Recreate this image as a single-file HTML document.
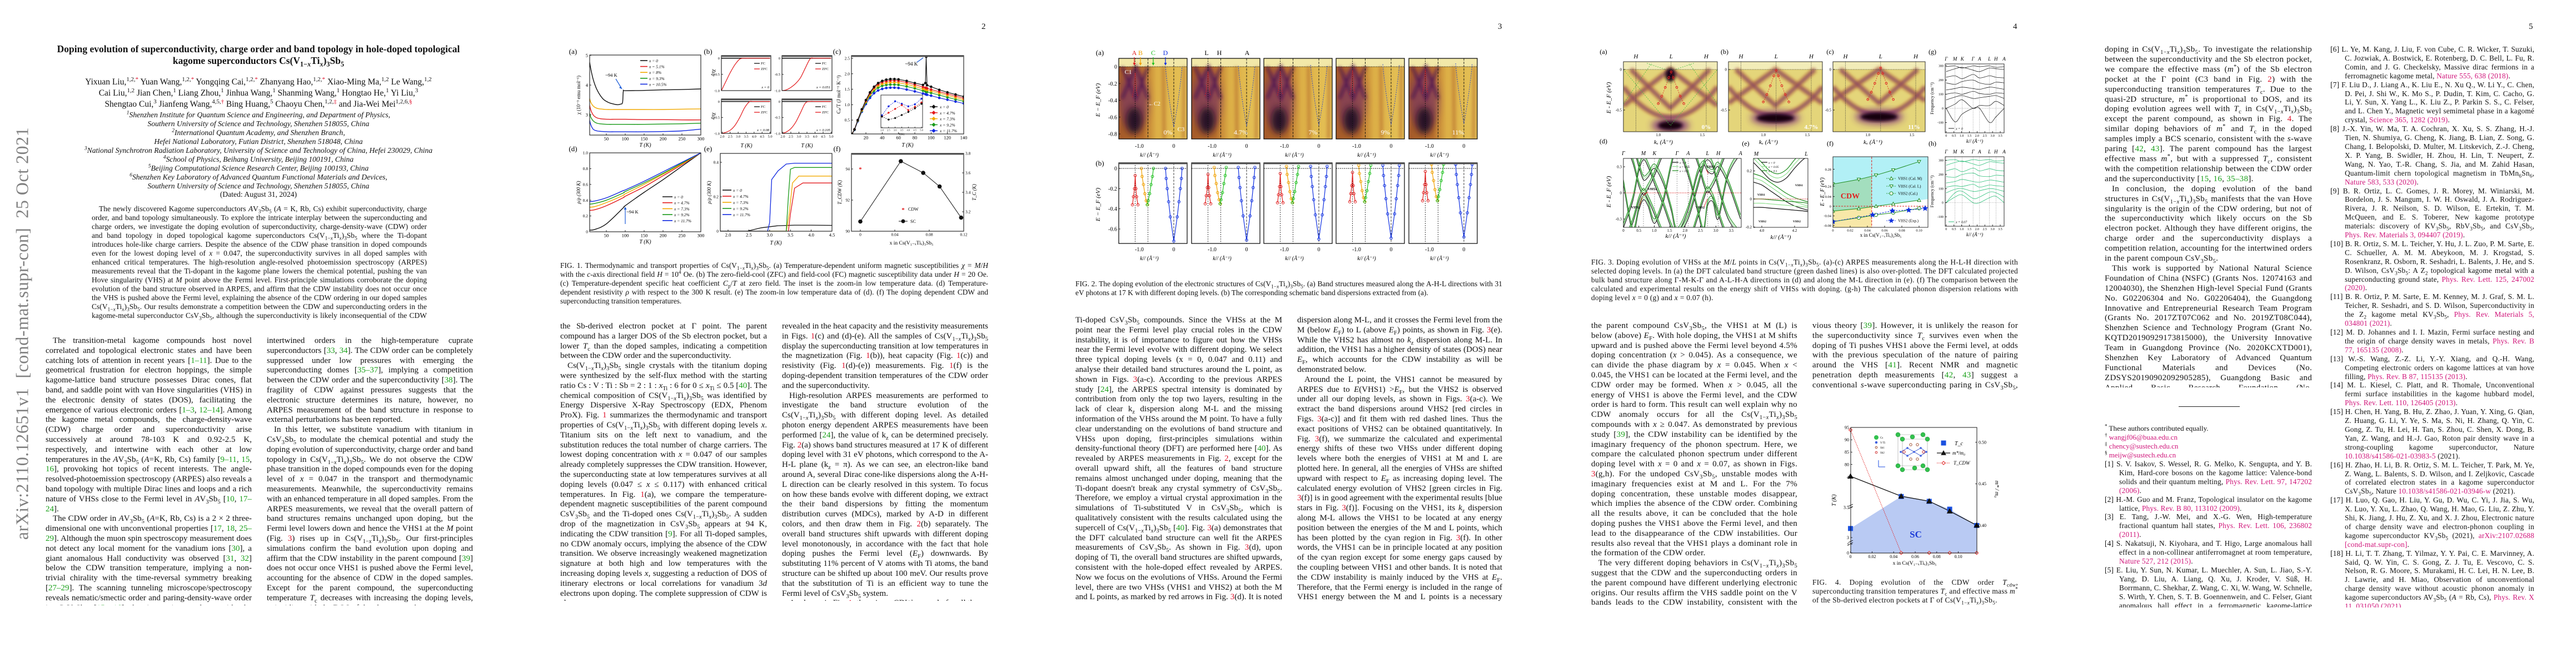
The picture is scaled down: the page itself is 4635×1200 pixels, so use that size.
<!DOCTYPE html>
<html><head><meta charset="utf-8">
<style>
html,body{margin:0;padding:0;background:#fff;}
#sheet{position:relative;width:4635px;height:1200px;overflow:hidden;background:#fff;font-family:"Liberation Serif","DejaVu Serif",serif;color:#111;}
.page{position:absolute;top:0;width:928px;height:1200px;}
.col{position:absolute;font-size:15px;line-height:17.8px;text-align:justify;overflow:hidden;}
.col p{margin:0;text-indent:13px;}
.col p.ni{text-indent:0;}
.cap{position:absolute;font-size:13.4px;line-height:16px;text-align:justify;overflow:hidden;}
.refs{position:absolute;font-size:13.3px;line-height:15.9px;text-align:justify;overflow:hidden;}
.refs div{padding-left:26px;text-indent:-26px;}
sub,sup{font-size:70%;line-height:0;}
.g{color:#1aa01a;} .r{color:#e0102a;} .m{color:#d0157a;}
.pn{position:absolute;top:40px;font-size:15px;}
</style></head>
<body>
<div id="sheet">

<!-- PAGE 1 -->
<div class="page" style="left:0">
 <div style="position:absolute;left:40px;top:600px;width:0;height:0;">
  <div style="position:absolute;transform:translate(-50%,-50%) rotate(-90deg);white-space:nowrap;font-size:32px;color:#808080;letter-spacing:0.5px;">arXiv:2110.12651v1&nbsp;&nbsp;[cond-mat.supr-con]&nbsp;&nbsp;25 Oct 2021</div>
 </div>
 <div style="position:absolute;left:80px;width:770px;top:78px;text-align:center;font-weight:bold;font-size:17.5px;line-height:21px;">Doping evolution of superconductivity, charge order and band topology in hole-doped topological<br>kagome superconductors Cs(V<sub>1−<i>x</i></sub>Ti<sub><i>x</i></sub>)<sub>3</sub>Sb<sub>5</sub></div>
 <div style="position:absolute;left:150px;width:630px;top:138px;text-align:center;font-size:15.5px;line-height:20px;">Yixuan Liu,<sup>1,2,<span class="r">*</span></sup> Yuan Wang,<sup>1,2,<span class="r">*</span></sup> Yongqing Cai,<sup>1,2,<span class="r">*</span></sup> Zhanyang Hao,<sup>1,2,<span class="r">*</span></sup> Xiao-Ming Ma,<sup>1,2</sup> Le Wang,<sup>1,2</sup> Cai Liu,<sup>1,2</sup> Jian Chen,<sup>1</sup> Liang Zhou,<sup>1</sup> Jinhua Wang,<sup>1</sup> Shanming Wang,<sup>1</sup> Hongtao He,<sup>1</sup> Yi Liu,<sup>3</sup> Shengtao Cui,<sup>3</sup> Jianfeng Wang,<sup>4,5,<span class="r">†</span></sup> Bing Huang,<sup>5</sup> Chaoyu Chen,<sup>1,2,<span class="r">‡</span></sup> and Jia-Wei Mei<sup>1,2,6,<span class="r">§</span></sup></div>
 <div style="position:absolute;left:100px;width:730px;top:199px;text-align:center;font-style:italic;font-size:13.6px;line-height:16px;">
  <sup>1</sup>Shenzhen Institute for Quantum Science and Engineering, and Department of Physics,<br>Southern University of Science and Technology, Shenzhen 518055, China<br><sup>2</sup>International Quantum Academy, and Shenzhen Branch,<br>Hefei National Laboratory, Futian District, Shenzhen 518048, China<br><sup>3</sup>National Synchrotron Radiation Laboratory, University of Science and Technology of China, Hefei 230029, China<br><sup>4</sup>School of Physics, Beihang University, Beijing 100191, China<br><sup>5</sup>Beijing Computational Science Research Center, Beijing 100193, China<br><sup>6</sup>Shenzhen Key Laboratory of Advanced Quantum Functional Materials and Devices,<br>Southern University of Science and Technology, Shenzhen 518055, China</div>
 <div style="position:absolute;left:100px;width:730px;top:342px;text-align:center;font-size:13.6px;">(Dated: August 31, 2024)</div>
 <div class="cap" style="left:165px;width:603px;top:368px;height:210px;font-size:13.5px;"><p style="margin:0;text-indent:13px">The newly discovered Kagome superconductors <i>A</i>V<sub>3</sub>Sb<sub>5</sub> (<i>A</i> = K, Rb, Cs) exhibit superconductivity, charge order, and band topology simultaneously. To explore the intricate interplay between the superconducting and charge orders, we investigate the doping evolution of superconductivity, charge-density-wave (CDW) order and band topology in doped topological kagome superconductors Cs(V<sub>1−<i>x</i></sub>Ti<sub><i>x</i></sub>)<sub>3</sub>Sb<sub>5</sub> where the Ti-dopant introduces hole-like charge carriers. Despite the absence of the CDW phase transition in doped compounds even for the lowest doping level of <i>x</i> = 0.047, the superconductivity survives in all doped samples with enhanced critical temperatures. The high-resolution angle-resolved photoemission spectroscopy (ARPES) measurements reveal that the Ti-dopant in the kagome plane lowers the chemical potential, pushing the van Hove singularity (VHS) at <i>M</i> point above the Fermi level. First-principle simulations corroborate the doping evolution of the band structure observed in ARPES, and affirm that the CDW instability does not occur once the VHS is pushed above the Fermi level, explaining the absence of the CDW ordering in our doped samples Cs(V<sub>1−<i>x</i></sub>Ti<sub><i>x</i></sub>)<sub>3</sub>Sb<sub>5</sub>. Our results demonstrate a competition between the CDW and superconducting orders in the kagome-metal superconductor CsV<sub>3</sub>Sb<sub>5</sub>, although the superconductivity is likely inconsequential of the CDW order.</p></div>
 <div class="col" style="left:82px;width:371px;top:605px;height:484px;">
  <p>The transition-metal kagome compounds host novel correlated and topological electronic states and have been catching lots of attention in recent years [<span class="g">1–11</span>]. Due to the geometrical frustration for electron hoppings, the simple kagome-lattice band structure possesses Dirac cones, flat band, and saddle point with van Hove singularities (VHS) in the electronic density of states (DOS), facilitating the emergence of various electronic orders [<span class="g">1–3</span>, <span class="g">12–14</span>]. Among the kagome metal compounds, the charge-density-wave (CDW) charge order and superconductivity arise successively at around 78-103 K and 0.92-2.5 K, respectively, and intertwine with each other at low temperatures in the <i>A</i>V<sub>3</sub>Sb<sub>5</sub> (<i>A</i>=K, Rb, Cs) family [<span class="g">9–11</span>, <span class="g">15</span>, <span class="g">16</span>], provoking hot topics of recent interests. The angle-resolved-photoemission spectroscopy (ARPES) also reveals a band topology with multiple Dirac lines and loops and a rich nature of VHSs close to the Fermi level in <i>A</i>V<sub>3</sub>Sb<sub>5</sub> [<span class="g">10</span>, <span class="g">17–24</span>].</p>
  <p>The CDW order in <i>A</i>V<sub>3</sub>Sb<sub>5</sub> (<i>A</i>=K, Rb, Cs) is a 2 × 2 three-dimensional one with unconventional properties [<span class="g">17</span>, <span class="g">18</span>, <span class="g">25–29</span>]. Although the muon spin spectroscopy measurement does not detect any local moment for the vanadium ions [<span class="g">30</span>], a giant anomalous Hall conductivity was observed [<span class="g">31</span>, <span class="g">32</span>] below the CDW transition temperature, implying a non-trivial chirality with the time-reversal symmetry breaking [<span class="g">27–29</span>]. The scanning tunneling microscope/spectroscopy reveals nematic/smectic order and paring-density-wave order in CsV<sub>3</sub>Sb<sub>5</sub> [<span class="g">15</span>, <span class="g">16</span>], by interesting analogy with the intertwined orders of the cuprates.</p>
 </div>
 <div class="col" style="left:480px;width:371px;top:605px;height:484px;">
  <p class="ni">intertwined orders in the high-temperature cuprate superconductors [<span class="g">33</span>, <span class="g">34</span>]. The CDW order can be completely suppressed under low pressures with emerging the superconducting domes [<span class="g">35–37</span>], implying a competition between the CDW order and the superconductivity [<span class="g">38</span>]. The fragility of CDW against pressures suggests that the electronic structure determines its nature, however, no ARPES measurement of the band structure in response to external perturbations has been reported.</p>
  <p>In this letter, we substitute vanadium with titanium in CsV<sub>3</sub>Sb<sub>5</sub> to modulate the chemical potential and study the doping evolution of superconductivity, charge order and band topology in Cs(V<sub>1−<i>x</i></sub>Ti<sub><i>x</i></sub>)<sub>3</sub>Sb<sub>5</sub>. We do not observe the CDW phase transition in the doped compounds even for the doping level of <i>x</i> = 0.047 in the transport and thermodynamic measurements. Meanwhile, the superconductivity remains with an enhanced temperature in all doped samples. From the ARPES measurements, we reveal that the overall pattern of band structures remains unchanged upon doping, but the Fermi level lowers down and hence the VHS1 at the <i>M</i> point (Fig. <span class="r">3</span>) rises up in Cs(V<sub>1−<i>x</i></sub>Ti<sub><i>x</i></sub>)<sub>3</sub>Sb<sub>5</sub>. Our first-principles simulations confirm the band evolution upon doping and affirm that the CDW instability in the parent compound [<span class="g">39</span>] does not occur once VHS1 is pushed above the Fermi level, accounting for the absence of CDW in the doped samples. Except for the parent compound, the superconducting temperature <i>T</i><sub>c</sub> decreases with increasing the doping levels, coinciding with the DOS of the electron pocket.</p>
 </div>
</div>

<!-- PAGE 2 -->
<div class="page" style="left:928px">
 <div class="pn" style="left:838px">2</div>
 <div class="cap" style="left:80px;width:770px;top:470px;height:82px;">FIG. 1. Thermodynamic and transport properties of Cs(V<sub>1−<i>x</i></sub>Ti<sub><i>x</i></sub>)<sub>3</sub>Sb<sub>5</sub>. (a) Temperature-dependent uniform magnetic susceptibilities <i>χ</i> = <i>M</i>/<i>H</i> with the <i>c</i>-axis directional field <i>H</i> = 10<sup>4</sup> Oe. (b) The zero-field-cool (ZFC) and field-cool (FC) magnetic susceptibility data under <i>H</i> = 20 Oe. (c) Temperature-dependent specific heat coefficient <i>C</i><sub>p</sub>/<i>T</i> at zero field. The inset is the zoom-in low temperature data. (d) Temperature-dependent resistivity <i>ρ</i> with respect to the 300 K result. (e) The zoom-in low temperature data of (d). (f) The doping dependent CDW and superconducting transition temperatures.</div>
 <div class="col" style="left:80px;width:372px;top:579px;height:502px;">
  <p class="ni">the Sb-derived electron pocket at Γ point. The parent compound has a larger DOS of the Sb electron pocket, but a lower <i>T</i><sub>c</sub> than the doped samples, indicating a competition between the CDW order and the superconductivity.</p>
  <p>Cs(V<sub>1−<i>x</i></sub>Ti<sub><i>x</i></sub>)<sub>3</sub>Sb<sub>5</sub> single crystals with the titanium doping were synthesized by the self-flux method with the starting ratio Cs : V : Ti : Sb = 2 : 1 : <i>x</i><sub>Ti</sub> : 6 for 0 ≤ <i>x</i><sub>Ti</sub> ≤ 0.5 [<span class="g">40</span>]. The chemical composition of CS(V<sub>1−<i>x</i></sub>Ti<sub><i>x</i></sub>)<sub>3</sub>Sb<sub>5</sub> was identified by Energy Dispersive X-Ray Spectroscopy (EDX, Phenom ProX). Fig. <span class="r">1</span> summarizes the thermodynamic and transport properties of Cs(V<sub>1−<i>x</i></sub>Ti<sub><i>x</i></sub>)<sub>3</sub>Sb<sub>5</sub> with different doping levels <i>x</i>. Titanium sits on the left next to vanadium, and the substitution reduces the total number of charge carriers. The lowest doping concentration with <i>x</i> = 0.047 of our samples already completely suppresses the CDW transition. However, the superconducting state at low temperatures survives at all doping levels (0.047 ≤ <i>x</i> ≤ 0.117) with enhanced critical temperatures. In Fig. <span class="r">1</span>(a), we compare the temperature-dependent magnetic susceptibilities of the parent compound CsV<sub>3</sub>Sb<sub>5</sub> and the Ti-doped ones Cs(V<sub>1−<i>x</i></sub>Ti<sub><i>x</i></sub>)<sub>3</sub>Sb<sub>5</sub>. A sudden drop of the magnetization in CsV<sub>3</sub>Sb<sub>5</sub> appears at 94 K, indicating the CDW transition [<span class="g">9</span>]. For all Ti-doped samples, no CDW anomaly occurs, implying the absence of the CDW transition. We observe increasingly weakened magnetization signature at both high and low temperatures with the increasing doping levels <i>x</i>, suggesting a reduction of DOS of itinerary electrons or local correlations for vanadium 3<i>d</i> electrons upon doping. The complete suppression of CDW is also</p>
 </div>
 <div class="col" style="left:479px;width:371px;top:579px;height:502px;">
  <p class="ni">revealed in the heat capacity and the resistivity measurements in Figs. <span class="r">1</span>(c) and (d)-(e). All the samples of Cs(V<sub>1−<i>x</i></sub>Ti<sub><i>x</i></sub>)<sub>3</sub>Sb<sub>5</sub> display the superconducting transition at low temperatures in the magnetization (Fig. <span class="r">1</span>(b)), heat capacity (Fig. <span class="r">1</span>(c)) and resistivity (Fig. <span class="r">1</span>(d)-(e)) measurements. Fig. <span class="r">1</span>(f) is the doping-dependent transition temperatures of the CDW order and the superconductivity.</p>
  <p>High-resolution ARPES measurements are performed to investigate the band structure evolution of the Cs(V<sub>1−<i>x</i></sub>Ti<sub><i>x</i></sub>)<sub>3</sub>Sb<sub>5</sub> with different doping level. As detailed photon energy dependent ARPES measurements have been performed [<span class="g">24</span>], the value of k<sub>z</sub> can be determined precisely. Fig. <span class="r">2</span>(a) shows band structures measured at 17 K of different doping level with 31 eV photons, which correspond to the A-H-L plane (k<sub>z</sub> = π). As we can see, an electron-like band around A, several Dirac cone-like dispersions along the A-H-L direction can be clearly resolved in this system. To focus on how these bands evolve with different doping, we extract the their band dispersions by fitting the momentum distribution curves (MDCs), marked by A-D in different colors, and then draw them in Fig. <span class="r">2</span>(b) separately. The overall band structures shift upwards with different doping level monotonously, in accordance with the fact that hole doping pushes the Fermi level (<i>E</i><sub>F</sub>) downwards. By substituting 11% percent of V atoms with Ti atoms, the band structure can be shifted up about 100 meV. Our results prove that the substitution of Ti is an efficient way to tune the Fermi level of CsV<sub>3</sub>Sb<sub>5</sub> system.</p>
  <p>As shown in Fig. <span class="r">1</span>, there is no CDW anomaly for all the</p>
 </div>
</div>

<!-- PAGE 3 -->
<div class="page" style="left:1856px">
 <div class="pn" style="left:839px">3</div>
 <div class="cap" style="left:79px;width:768px;top:503px;height:34px;">FIG. 2. The doping evolution of the electronic structures of Cs(V<sub>1−<i>x</i></sub>Ti<sub><i>x</i></sub>)<sub>3</sub>Sb<sub>5</sub>. (a) Band structures measured along the A-H-L directions with 31 eV photons at 17 K with different doping levels. (b) The corresponding schematic band dispersions extracted from (a).</div>
 <div class="col" style="left:79px;width:372px;top:568px;height:513px;">
  <p class="ni">Ti-doped CsV<sub>3</sub>Sb<sub>5</sub> compounds. Since the VHSs at the M point near the Fermi level play crucial roles in the CDW instability, it is of importance to figure out how the VHSs near the Fermi level evolve with different doping. We select three typical doping levels (x = 0, 0.047 and 0.11) and analyse their detailed band structures around the L point, as shown in Figs. <span class="r">3</span>(a-c). According to the previous ARPES study [<span class="g">24</span>], the ARPES spectral intensity is dominated by contribution from only the top two layers, resulting in the lack of clear k<sub>z</sub> dispersion along M-L and the missing information of the VHSs around the M point. To have a fully clear understanding on the evolutions of band structure and VHSs upon doping, first-principles simulations within density-functional theory (DFT) are performed here [<span class="g">40</span>]. As revealed by ARPES measurements in Fig. <span class="r">2</span>, except for the overall upward shift, all the features of band structure remains almost unchanged under doping, meaning that the Ti-dopant doesn't break any crystal symmetry of CsV<sub>3</sub>Sb<sub>5</sub>. Therefore, we employ a virtual crystal approximation in the simulations of Ti-substituted V in CsV<sub>3</sub>Sb<sub>5</sub>, which is qualitatively consistent with the results calculated using the supercell of Cs(V<sub>1−<i>x</i></sub>Ti<sub><i>x</i></sub>)<sub>3</sub>Sb<sub>5</sub> [<span class="g">40</span>]. Fig. <span class="r">3</span>(a) demonstrates that the DFT calculated band structure can well fit the ARPES measurements of CsV<sub>3</sub>Sb<sub>5</sub>. As shown in Fig. <span class="r">3</span>(d), upon doping of Ti, the overall band structures are shifted upwards, consistent with the hole-doped effect revealed by ARPES. Now we focus on the evolutions of VHSs. Around the Fermi level, there are two VHSs (VHS1 and VHS2) at both the M and L points, as marked by red arrows in Fig. <span class="r">3</span>(d). It is noted that the VHS1 has a large <i>k</i><sub>z</sub></p>
 </div>
 <div class="col" style="left:478px;width:369px;top:568px;height:513px;">
  <p class="ni">dispersion along M-L, and it crosses the Fermi level from the M (below <i>E</i><sub>F</sub>) to L (above <i>E</i><sub>F</sub>) points, as shown in Fig. <span class="r">3</span>(e). While the VHS2 has almost no <i>k</i><sub>z</sub> dispersion along M-L. In addition, the VHS1 has a higher density of states (DOS) near <i>E</i><sub>F</sub>, which accounts for the CDW instability as will be demonstrated below.</p>
  <p>Around the L point, the VHS1 cannot be measured by ARPES due to <i>E</i>(VHS1) &gt;<i>E</i><sub>F</sub>, but the VHS2 is observed under all our doping levels, as shown in Figs. <span class="r">3</span>(a-c). We extract the band dispersions around VHS2 [red circles in Figs. <span class="r">3</span>(a-c)] and fit them with red dashed lines. Thus the exact positions of VHS2 can be obtained quantitatively. In Fig. <span class="r">3</span>(f), we summarize the calculated and experimental energy shifts of these two VHSs under different doping levels where both the energies of VHS1 at M and L are plotted here. In general, all the energies of VHSs are shifted upward with respect to <i>E</i><sub>F</sub> as increasing doping level. The calculated energy evolution of VHS2 [green circles in Fig. <span class="r">3</span>(f)] is in good agreement with the experimental results [blue stars in Fig. <span class="r">3</span>(f)]. Focusing on the VHS1, its <i>k</i><sub>z</sub> dispersion along M-L allows the VHS1 to be located at any energy position between the energies of the M and L points, which has been plotted by the cyan region in Fig. <span class="r">3</span>(f). In other words, the VHS1 can be in principle located at any position of the cyan region except for some energy gaps caused by the coupling between VHS1 and other bands. It is noted that the CDW instability is mainly induced by the VHS at <i>E</i><sub>F</sub>. Therefore, that the Fermi energy is included in the range of VHS1 energy between the M and L points is a necessary condition for the formation of CDW. As shown in Fig. <span class="r">3</span>(f), for</p>
 </div>
</div>

<!-- PAGE 4 -->
<div class="page" style="left:2784px">
 <div class="pn" style="left:838px">4</div>
 <div class="cap" style="left:79px;width:768px;top:464px;height:82px;letter-spacing:0.3px;">FIG. 3. Doping evolution of VHSs at the <i>M</i>/<i>L</i> points in Cs(V<sub>1−<i>x</i></sub>Ti<sub><i>x</i></sub>)<sub>3</sub>Sb<sub>5</sub>. (a)-(c) ARPES measurements along the H-L-H direction with selected doping levels. In (a) the DFT calculated band structure (green dashed lines) is also over-plotted. The DFT calculated projected bulk band structure along Γ-M-K-Γ and A-L-H-A directions in (d) and along the M-L direction in (e). (f) The comparison between the calculated and experimental results on the energy shift of VHSs with doping. (g-h) The calculated phonon dispersion relations with doping level <i>x</i> = 0 (g) and <i>x</i> = 0.07 (h).</div>
 <div class="col" style="left:79px;width:371px;top:578px;height:513px;letter-spacing:0.3px;">
  <p class="ni">the parent compound CsV<sub>3</sub>Sb<sub>5</sub>, the VHS1 at M (L) is below (above) <i>E</i><sub>F</sub>. With hole doping, the VHS1 at M shifts upward and is pushed above the Fermi level beyond 4.5% doping concentration (<i>x</i> &gt; 0.045). As a consequence, we can divide the phase diagram by <i>x</i> = 0.045. When <i>x</i> &lt; 0.045, the VHS1 can be located at the Fermi level, and the CDW order may be formed. When <i>x</i> &gt; 0.045, all the energy of VHS1 is above the Fermi level, and the CDW order is hard to form. This result can well explain why no CDW anomaly occurs for all the Cs(V<sub>1−<i>x</i></sub>Ti<sub><i>x</i></sub>)<sub>3</sub>Sb<sub>5</sub> compounds with <i>x</i> ≥ 0.047. As demonstrated by previous study [<span class="g">39</span>], the CDW instability can be identified by the imaginary frequency of the phonon spectrum. Here, we compare the calculated phonon spectrum under different doping level with <i>x</i> = 0 and <i>x</i> = 0.07, as shown in Figs. <span class="r">3</span>(g,h). For the undoped CsV<sub>3</sub>Sb<sub>5</sub>, unstable modes with imaginary frequencies exist at M and L. For the 7% doping concentration, these unstable modes disappear, which implies the absence of the CDW order. Combining all the results above, it can be concluded that the hole doping pushes the VHS1 above the Fermi level, and then lead to the disappearance of the CDW instabilities. Our results also reveal that the VHS1 plays a dominant role in the formation of the CDW order.</p>
  <p>The very different doping behaviors in Cs(V<sub>1−<i>x</i></sub>Ti<sub><i>x</i></sub>)<sub>3</sub>Sb<sub>5</sub> suggest that the CDW and the superconducting orders in the parent compound have different underlying electronic origins. Our results affirm the VHS saddle point on the V bands leads to the CDW instability, consistent with the pre-</p>
 </div>
 <div class="col" style="left:477px;width:370px;top:578px;height:126px;letter-spacing:0.3px;">
  <p class="ni">vious theory [<span class="g">39</span>]. However, it is unlikely the reason for the superconductivity since <i>T</i><sub>c</sub> survives even when the doping of Ti pushes VHS1 above the Fermi level, at odds with the previous speculation of the nature of pairing around the VHS [<span class="g">41</span>]. Recent NMR and magnetic penetration depth measurements [<span class="g">42</span>, <span class="g">43</span>] suggest a conventional <i>s</i>-wave superconducting paring in CsV<sub>3</sub>Sb<sub>5</sub>, which unlikely occurs on the V bands regarding the robustness of the superconductivity upon</p>
 </div>
 <div class="cap" style="left:477px;width:370px;top:1040px;height:50px;letter-spacing:0.3px;">FIG. 4. Doping evolution of the CDW order <i>T</i><sub>cdw</sub>, superconducting transition temperatures <i>T</i><sub>c</sub> and effective mass <i>m</i><sup>*</sup> of the Sb-derived electron pockets at Γ of Cs(V<sub>1−<i>x</i></sub>Ti<sub><i>x</i></sub>)<sub>3</sub>Sb<sub>5</sub>.</div>
</div>

<!-- PAGE 5 -->
<div class="page" style="left:3712px">
 <div class="pn" style="left:838px">5</div>
 <div class="col" style="left:75px;width:373px;top:81px;height:616px;letter-spacing:0.3px;line-height:17.9px;">
  <p class="ni">doping in Cs(V<sub>1−<i>x</i></sub>Ti<sub><i>x</i></sub>)<sub>3</sub>Sb<sub>5</sub>. To investigate the relationship between the superconductivity and the Sb electron pocket, we compare the effective mass (<i>m</i><sup>*</sup>) of the Sb electron pocket at the Γ point (C3 band in Fig. <span class="r">2</span>) with the superconducting transition temperatures <i>T</i><sub>c</sub>. Due to the quasi-2D structure, <i>m</i><sup>*</sup> is proportional to DOS, and its doping evolution agrees well with <i>T</i><sub>c</sub> in Cs(V<sub>1−<i>x</i></sub>Ti<sub><i>x</i></sub>)<sub>3</sub>Sb<sub>5</sub> except the parent compound, as shown in Fig. <span class="r">4</span>. The similar doping behaviors of <i>m</i><sup>*</sup> and <i>T</i><sub>c</sub> in the doped samples imply a BCS scenario, consistent with the <i>s</i>-wave paring [<span class="g">42</span>, <span class="g">43</span>]. The parent compound has the largest effective mass <i>m</i><sup>*</sup>, but with a suppressed <i>T</i><sub>c</sub>, consistent with the competition relationship between the CDW order and the superconductivity [<span class="g">15</span>, <span class="g">16</span>, <span class="g">35–38</span>].</p>
  <p>In conclusion, the doping evolution of the band structures in Cs(V<sub>1−<i>x</i></sub>Ti<sub><i>x</i></sub>)<sub>3</sub>Sb<sub>5</sub> manifests that the van Hove singularity is the origin of the CDW ordering, but not of the superconductivity which likely occurs on the Sb electron pocket. Although they have different origins, the charge order and the superconductivity displays a competition relation, accounting for the intertwined orders in the parent compoun CsV<sub>3</sub>Sb<sub>5</sub>.</p>
  <p>This work is supported by National Natural Science Foundation of China (NSFC) (Grants Nos. 12074163 and 12004030), the Shenzhen High-level Special Fund (Grants No. G02206304 and No. G02206404), the Guangdong Innovative and Entrepreneurial Research Team Program (Grants No. 2017ZT07C062 and No. 2019ZT08C044), Shenzhen Science and Technology Program (Grant No. KQTD20190929173815000), the University Innovative Team in Guangdong Province (No. 2020KCXTD001), Shenzhen Key Laboratory of Advanced Quantum Functional Materials and Devices (No. ZDSYS20190902092905285), Guangdong Basic and Applied Basic Research Foundation (No. 2020B1515120100), and China Postdoctoral Science Foundation (2020M682780).</p>
 </div>
 <div style="position:absolute;left:208px;top:731px;width:110px;height:1px;background:#222;"></div>
 <div class="refs" style="left:75px;width:373px;top:763px;height:66px;font-size:13px;">
  <div><sup>*</sup> These authors contributed equally.</div>
  <div><sup>†</sup> <span class="m">wangjf06@buaa.edu.cn</span></div>
  <div><sup>‡</sup> <span class="m">chency@sustech.edu.cn</span></div>
  <div><sup>§</sup> <span class="m">meijw@sustech.edu.cn</span></div>
 </div>
 <div class="refs" style="left:75px;width:373px;top:827px;height:266px;letter-spacing:0.2px;">
  <div>[1] S. V. Isakov, S. Wessel, R. G. Melko, K. Sengupta, and Y. B. Kim, Hard-core bosons on the kagome lattice: Valence-bond solids and their quantum melting, <span class="m">Phys. Rev. Lett. 97, 147202 (2006)</span>.</div>
  <div>[2] H.-M. Guo and M. Franz, Topological insulator on the kagome lattice, <span class="m">Phys. Rev. B 80, 113102 (2009)</span>.</div>
  <div>[3] E. Tang, J.-W. Mei, and X.-G. Wen, High-temperature fractional quantum hall states, <span class="m">Phys. Rev. Lett. 106, 236802 (2011)</span>.</div>
  <div>[4] S. Nakatsuji, N. Kiyohara, and T. Higo, Large anomalous hall effect in a non-collinear antiferromagnet at room temperature, <span class="m">Nature 527, 212 (2015)</span>.</div>
  <div>[5] E. Liu, Y. Sun, N. Kumar, L. Muechler, A. Sun, L. Jiao, S.-Y. Yang, D. Liu, A. Liang, Q. Xu, J. Kroder, V. Süß, H. Borrmann, C. Shekhar, Z. Wang, C. Xi, W. Wang, W. Schnelle, S. Wirth, Y. Chen, S. T. B. Goennenwein, and C. Felser, Giant anomalous hall effect in a ferromagnetic kagome-lattice semimetal, <span class="m">Nature Physics 14, 1125 (2018)</span>.</div>
 </div>
 <div class="refs" style="left:481px;width:367px;top:81px;height:1012px;letter-spacing:0.2px;">
  <div>[6] L. Ye, M. Kang, J. Liu, F. von Cube, C. R. Wicker, T. Suzuki, C. Jozwiak, A. Bostwick, E. Rotenberg, D. C. Bell, L. Fu, R. Comin, and J. G. Checkelsky, Massive dirac fermions in a ferromagnetic kagome metal, <span class="m">Nature 555, 638 (2018)</span>.</div>
  <div>[7] F. Liu D., J. Liang A., K. Liu E., N. Xu Q., W. Li Y., C. Chen, D. Pei, J. Shi W., K. Mo S., P. Dudin, T. Kim, C. Cacho, G. Li, Y. Sun, X. Yang L., K. Liu Z., P. Parkin S. S., C. Felser, and L. Chen Y., Magnetic weyl semimetal phase in a kagomé crystal, <span class="m">Science 365, 1282 (2019)</span>.</div>
  <div>[8] J.-X. Yin, W. Ma, T. A. Cochran, X. Xu, S. S. Zhang, H.-J. Tien, N. Shumiya, G. Cheng, K. Jiang, B. Lian, Z. Song, G. Chang, I. Belopolski, D. Multer, M. Litskevich, Z.-J. Cheng, X. P. Yang, B. Swidler, H. Zhou, H. Lin, T. Neupert, Z. Wang, N. Yao, T.-R. Chang, S. Jia, and M. Zahid Hasan, Quantum-limit chern topological magnetism in TbMn<sub>6</sub>Sn<sub>6</sub>, <span class="m">Nature 583, 533 (2020)</span>.</div>
  <div>[9] B. R. Ortiz, L. C. Gomes, J. R. Morey, M. Winiarski, M. Bordelon, J. S. Mangum, I. W. H. Oswald, J. A. Rodriguez-Rivera, J. R. Neilson, S. D. Wilson, E. Ertekin, T. M. McQueen, and E. S. Toberer, New kagome prototype materials: discovery of KV<sub>3</sub>Sb<sub>5</sub>, RbV<sub>3</sub>Sb<sub>5</sub>, and CsV<sub>3</sub>Sb<sub>5</sub>, <span class="m">Phys. Rev. Materials 3, 094407 (2019)</span>.</div>
  <div>[10] B. R. Ortiz, S. M. L. Teicher, Y. Hu, J. L. Zuo, P. M. Sarte, E. C. Schueller, A. M. M. Abeykoon, M. J. Krogstad, S. Rosenkranz, R. Osborn, R. Seshadri, L. Balents, J. He, and S. D. Wilson, CsV<sub>3</sub>Sb<sub>5</sub>: A Z<sub>2</sub> topological kagome metal with a superconducting ground state, <span class="m">Phys. Rev. Lett. 125, 247002 (2020)</span>.</div>
  <div>[11] B. R. Ortiz, P. M. Sarte, E. M. Kenney, M. J. Graf, S. M. L. Teicher, R. Seshadri, and S. D. Wilson, Superconductivity in the Z<sub>2</sub> kagome metal KV<sub>3</sub>Sb<sub>5</sub>, <span class="m">Phys. Rev. Materials 5, 034801 (2021)</span>.</div>
  <div>[12] M. D. Johannes and I. I. Mazin, Fermi surface nesting and the origin of charge density waves in metals, <span class="m">Phys. Rev. B 77, 165135 (2008)</span>.</div>
  <div>[13] W.-S. Wang, Z.-Z. Li, Y.-Y. Xiang, and Q.-H. Wang, Competing electronic orders on kagome lattices at van hove filling, <span class="m">Phys. Rev. B 87, 115135 (2013)</span>.</div>
  <div>[14] M. L. Kiesel, C. Platt, and R. Thomale, Unconventional fermi surface instabilities in the kagome hubbard model, <span class="m">Phys. Rev. Lett. 110, 126405 (2013)</span>.</div>
  <div>[15] H. Chen, H. Yang, B. Hu, Z. Zhao, J. Yuan, Y. Xing, G. Qian, Z. Huang, G. Li, Y. Ye, S. Ma, S. Ni, H. Zhang, Q. Yin, C. Gong, Z. Tu, H. Lei, H. Tan, S. Zhou, C. Shen, X. Dong, B. Yan, Z. Wang, and H.-J. Gao, Roton pair density wave in a strong-coupling kagome superconductor, Nature <span class="m">10.1038/s41586-021-03983-5</span> (2021).</div>
  <div>[16] H. Zhao, H. Li, B. R. Ortiz, S. M. L. Teicher, T. Park, M. Ye, Z. Wang, L. Balents, S. D. Wilson, and I. Zeljkovic, Cascade of correlated electron states in a kagome superconductor CsV<sub>3</sub>Sb<sub>5</sub>, Nature <span class="m">10.1038/s41586-021-03946-w</span> (2021).</div>
  <div>[17] H. Luo, Q. Gao, H. Liu, Y. Gu, D. Wu, C. Yi, J. Jia, S. Wu, X. Luo, Y. Xu, L. Zhao, Q. Wang, H. Mao, G. Liu, Z. Zhu, Y. Shi, K. Jiang, J. Hu, Z. Xu, and X. J. Zhou, Electronic nature of charge density wave and electron-phonon coupling in kagome superconductor KV<sub>3</sub>Sb<sub>5</sub> (2021), <span class="m">arXiv:2107.02688 [cond-mat.supr-con]</span>.</div>
  <div>[18] H. Li, T. T. Zhang, T. Yilmaz, Y. Y. Pai, C. E. Marvinney, A. Said, Q. W. Yin, C. S. Gong, Z. J. Tu, E. Vescovo, C. S. Nelson, R. G. Moore, S. Murakami, H. C. Lei, H. N. Lee, B. J. Lawrie, and H. Miao, Observation of unconventional charge density wave without acoustic phonon anomaly in kagome superconductors AV<sub>3</sub>Sb<sub>5</sub> (<i>A</i> = Rb, Cs), <span class="m">Phys. Rev. X 11, 031050 (2021)</span>.</div>
  <div>[19] M. Kang, S. Fang, J.-K. Kim, B. R. Ortiz, J. Yoo, B.-G. Park, S. D. Wilson, J.-G. Park, and R. Comin, Twofold van Hove singularity and origin of charge order.</div>
 </div>
</div>

<svg id="figs" width="4635" height="1200" viewBox="0 0 4635 1200" style="position:absolute;left:0;top:0;">
 <defs id="defs">
  <filter id="bl3" x="-20%" y="-20%" width="140%" height="140%"><feGaussianBlur stdDeviation="3"/></filter>
  <filter id="bl6" x="-30%" y="-30%" width="160%" height="160%"><feGaussianBlur stdDeviation="6"/></filter>
  <linearGradient id="g2bg" x1="0" y1="0" x2="1" y2="0">
   <stop offset="0" stop-color="#a45a2a"/><stop offset="0.35" stop-color="#b86e2e"/><stop offset="0.55" stop-color="#dcae46"/><stop offset="1" stop-color="#e6c458"/>
  </linearGradient>
 </defs>
</svg>
</div>

<script>
// ================= DATA =================
// Fig 1(a) susceptibility
const f1aT = [3,8,15,25,40,55,70,80,88,93,95,100,150,200,250,300];
const f1aChi0 = [5.0,4.6,4.2,3.85,3.55,3.42,3.36,3.34,3.36,3.42,3.80,3.81,3.82,3.84,3.85,3.87];
const f1aChi051 = [3.5,3.2,3.0,2.9,2.86,2.85,2.85,2.85,2.85,2.85,2.85,2.85,2.84,2.84,2.83,2.83];
const f1aChi08 = [3.7,3.45,3.3,3.22,3.19,3.18,3.18,3.18,3.18,3.18,3.18,3.18,3.18,3.18,3.19,3.20];
const f1aChi093 = [3.2,2.95,2.8,2.72,2.69,2.68,2.68,2.68,2.68,2.68,2.68,2.68,2.68,2.69,2.70,2.72];
const f1aChi105 = [3.0,2.7,2.52,2.46,2.44,2.43,2.43,2.43,2.43,2.43,2.43,2.43,2.43,2.44,2.46,2.52];
const f1aLegend = ['x = 0','x = 5.1%','x = 8%','x = 9.3%','x = 10.5%'];
// Fig 1(b) ZFC/FC
const f1bDoping = ['x = 0','x = 0.051','x = 0.08','x = 0.105'];
const f1bT = [1.95,2.2,2.5,2.8,3.1,3.4,3.7,4.0,5.0];
const f1bZfc0 = [-1.0,-0.75,-0.45,-0.2,-0.03,0,0,0,0];
const f1bZfc051 = [-1.0,-0.98,-0.9,-0.78,-0.6,-0.3,-0.02,0,0];
const f1bZfc08 = [-1.0,-0.97,-0.9,-0.75,-0.5,-0.2,-0.01,0,0];
const f1bZfc105 = [-1.0,-0.96,-0.85,-0.65,-0.35,-0.05,0,0,0];
const f1bFc = [0,0,0,0,0,0,0,0,0];
// Fig 1(c) specific heat
const f1cT = [3,6,10,15,20,25,30,35,40,45,50,55,60,70,80,90,93,94,95,100,110,120,130,140];
const f1cCp0 = [0.05,0.2,0.5,0.85,1.15,1.4,1.58,1.7,1.77,1.81,1.83,1.83,1.82,1.77,1.7,1.64,1.7,2.55,1.63,1.58,1.48,1.40,1.33,1.26];
const f1cCp47 = [0.05,0.2,0.5,0.84,1.13,1.37,1.55,1.66,1.73,1.76,1.78,1.78,1.77,1.72,1.65,1.57,1.55,1.54,1.53,1.49,1.42,1.35,1.28,1.21];
const f1cCp73 = [0.05,0.2,0.49,0.82,1.1,1.33,1.5,1.61,1.67,1.70,1.72,1.72,1.71,1.66,1.59,1.51,1.49,1.48,1.47,1.44,1.37,1.30,1.23,1.16];
const f1cCp92 = [0.05,0.19,0.48,0.8,1.07,1.29,1.45,1.55,1.61,1.64,1.65,1.65,1.64,1.59,1.53,1.45,1.43,1.42,1.41,1.38,1.31,1.24,1.17,1.11];
const f1cCp117 = [0.05,0.18,0.46,0.77,1.02,1.22,1.37,1.46,1.51,1.54,1.55,1.55,1.54,1.49,1.43,1.36,1.34,1.33,1.32,1.29,1.22,1.16,1.10,1.04];
const f1cLegend = ['x = 0','x = 4.7%','x = 7.3%','x = 9.2%','x = 11.7%'];
const f1cInsetT = [2.0,2.5,3.0,3.5,4.0,4.5,5.0];
const f1cInset0 = [0.040,0.028,0.034,0.046,0.058,0.072,0.09];
const f1cInset47 = [0.040,0.055,0.070,0.085,0.065,0.078,0.095];
const f1cInset117 = [0.045,0.080,0.100,0.090,0.080,0.088,0.110];
// Fig 1(d) resistivity
const f1dT = [3,20,50,94,100,150,200,250,300];
const f1dR0 = [0.02,0.03,0.10,0.30,0.33,0.50,0.66,0.83,1.0];
const f1dR47 = [0.27,0.28,0.33,0.43,0.45,0.57,0.71,0.85,1.0];
const f1dR73 = [0.31,0.32,0.37,0.46,0.48,0.60,0.73,0.86,1.0];
const f1dR92 = [0.35,0.36,0.40,0.49,0.51,0.62,0.74,0.87,1.0];
const f1dR117 = [0.38,0.39,0.43,0.52,0.53,0.64,0.76,0.88,1.0];
const f1dLegend = ['x = 0','x = 4.7%','x = 7.3%','x = 9.2%','x = 11.7%'];
// Fig 1(e) low-T resistivity
const f1eTblue = [1.8,2.95,3.0,3.05,3.2,3.4,3.6,4.5];
const f1eRblue = [0,0,0.05,0.30,0.35,0.39,0.395,0.395];
const f1eTgreen = [1.8,3.4,3.45,3.5,3.6,4.5];
const f1eRgreen = [0,0,0.2,0.36,0.37,0.37];
const f1eTorange = [1.8,3.4,3.47,3.55,3.7,4.5];
const f1eRorange = [0,0,0.1,0.28,0.32,0.32];
const f1eTred = [1.8,3.45,3.5,3.6,3.8,4.5];
const f1eRred = [0,0,0.1,0.25,0.28,0.28];
const f1eTblack = [1.8,2.45,2.8,3.2,3.6,4.0,4.5];
const f1eRblack = [0,0,0.02,0.032,0.035,0.035,0.034];
// Fig 1(f) phase diagram
const f1fX = [0,0.047,0.073,0.092,0.117];
const f1fTc = [3.10,3.72,3.60,3.46,3.14];
const f1fCdwX = [0];
const f1fCdwT = [94];
// Fig 2 dispersions
const f2Doping = ['0%','4.7%','7%','9%','11%'];
const f2Shift = [0,0.01,0.02,0.03,0.04];
const f2AK = [-1.2,-1.17,-1.14,-1.12,-1.1,-1.08,-1.04];
const f2AE = [-0.36,-0.28,-0.2,-0.07,-0.2,-0.28,-0.36];
const f2BK = [-0.94,-0.92,-0.88,-0.84,-0.8,-0.76];
const f2BE = [0,-0.08,-0.16,-0.25,-0.32,-0.36];
const f2CK = [-0.59,-0.62,-0.66,-0.70,-0.74,-0.77];
const f2CE = [0,-0.08,-0.16,-0.25,-0.32,-0.36];
const f2DK = [-0.24,-0.22,-0.19,-0.15,-0.1,0,0.1,0.15,0.19,0.22,0.24];
const f2DE = [0,-0.1,-0.2,-0.33,-0.48,-0.72,-0.48,-0.33,-0.2,-0.1,0];
// Fig 3(a-c) VHS2 red points
const f3Doping = ['0%','4.7%','11%'];
const f3Shift = [0,0.02,0.05];
const f3RedK = [1.0,1.04,1.08,1.12,1.146,1.17,1.21,1.25,1.29];
const f3RedE = [-0.42,-0.33,-0.22,-0.1,-0.03,-0.1,-0.22,-0.33,-0.42];
// Fig 3(d) DFT bands
const f3dK = [0,0.3,0.5,0.65,0.8,1.01,1.3,1.55,1.74,2.1,2.4,2.6,2.73,2.9,3.08,3.4,3.8];
const f3dBandA = [0.6,0.35,0.08,-0.02,0.05,0.2,0.45,0.6,0.7,0.6,0.35,0.1,0.0,0.08,0.22,0.5,0.7];
const f3dBandB = [-0.6,-0.35,-0.1,0.0,-0.08,-0.25,-0.5,-0.6,-0.7,-0.6,-0.3,-0.08,0.02,-0.06,-0.25,-0.55,-0.7];
const f3dBandC = [0.4,0.5,0.3,0.15,0.18,0.28,0.1,-0.2,-0.45,-0.2,0.2,0.32,0.25,0.22,0.3,0.1,-0.3];
const f3dBandD = [-0.4,-0.1,0.25,0.38,0.3,0.1,-0.15,-0.4,-0.5,-0.3,0.05,0.3,0.38,0.3,0.05,-0.3,-0.5];
const f3dBandE = [0.1,-0.45,-0.2,-0.08,-0.15,-0.35,-0.1,0.3,0.5,0.2,-0.2,-0.45,-0.15,-0.1,-0.3,0.2,0.45];
const f3dShift = [0,0.025,0.05];
const f3dLegend = ['x = 0','x = 0.05','x = 0.1'];
// Fig 3(e)
const f3eK = [3.95,4.0,4.05,4.1,4.15,4.2,4.25,4.28];
const f3eUp = [0.26,0.2,0.14,0.12,0.15,0.22,0.28,0.30];
const f3eMid = [0.12,0.10,0.06,0.02,-0.02,-0.05,-0.07,-0.08];
const f3eLow = [-0.06,-0.06,-0.065,-0.07,-0.075,-0.08,-0.085,-0.09];
const f3eShift = [0,0.03,0.06];
// Fig 3(f)
const f3fX = [0,0.03,0.05,0.07,0.1];
const f3fVhs1M = [-0.02,-0.01,0.0,0.01,0.025];
const f3fVhs1L = [0.245,0.256,0.266,0.278,0.298];
const f3fVhs2Cal = [-0.064,-0.048,-0.036,-0.027,-0.009];
const f3fExpX = [0,0.046,0.069,0.088,0.107];
const f3fVhs2Exp = [-0.064,-0.036,-0.019,-0.016,-0.009];
const f3fTickV = [0.28,0.24,0.04,0,-0.04,-0.08];
const f3fTickL = ['0.28','0.24','0.04','0','-0.04','-0.08'];
const f3fXTicks = [0,0.02,0.04,0.06,0.08,0.10];
// Fig 3(g,h) phonons
const f3Q = [0,0.57,1.04,1.74,2.16,2.8,3.22,3.75];
const f3SymLabels = ['Γ','M','K','Γ','A','L','H','A'];
const f3gB1 = [0,-95,-40,0,0,-100,-60,0];
const f3gB2 = [0,30,60,0,20,20,50,20];
const f3gB3 = [60,80,90,70,75,85,90,70];
const f3gB4 = [100,110,100,120,105,100,110,105];
const f3gB5 = [130,140,150,140,135,150,145,135];
const f3gB6 = [180,170,190,200,180,170,185,180];
const f3gB7 = [220,230,210,240,215,230,220,215];
const f3gB8 = [260,280,290,270,260,285,280,275];
const f3gB9 = [295,300,285,300,295,300,290,295];
const f3hB1 = [0,40,55,0,0,35,45,0];
const f3hB2 = [0,70,80,30,40,75,70,40];
const f3hB3 = [70,95,100,80,85,100,95,80];
const f3hB4 = [110,120,115,130,110,125,120,115];
const f3hB5 = [140,150,165,150,145,160,155,145];
const f3hB6 = [185,180,200,210,190,185,195,190];
const f3hB7 = [225,240,220,245,225,240,230,225];
const f3hB8 = [265,285,295,275,265,290,285,280];
const f3hB9 = [300,305,290,305,300,305,295,300];
// Fig 4
const f4X = [0,0.047,0.073,0.092,0.117];
const f4Tc = [3.15,3.68,3.60,3.47,3.20];
const f4Mass = [0.459,0.435,0.429,0.417,0.400];
const f4Tcdw = [94,0,0,0,0];
const f4XTicks = [0,0.02,0.04,0.06,0.08,0.10];
const f4LeftTicks = [95,90,85,80,4,3.5,3,1,0];
const f4LeftLabels = ['95','90','85','80','4','3.5','3','1','0'];
const f4RightTicks = [0.50,0.45,0.40];

// ================= HELPERS =================
const NS = 'http://www.w3.org/2000/svg';
const svgRoot = document.getElementById('figs');
const defs = document.getElementById('defs');
function mk(tag, parent, attrs){ const e = document.createElementNS(NS, tag); if(attrs){ for(const k in attrs) e.setAttribute(k, attrs[k]); } parent.appendChild(e); return e; }
function lin(d0,d1,p0,p1){ return v => p0 + (v-d0)*(p1-p0)/(d1-d0); }
function txt(parent,x,y,s,size,opt){
  opt = opt || {};
  const e = mk('text', parent, {x:x, y:y, 'font-size':size, 'font-family':opt.ff || '"Liberation Serif", "DejaVu Serif", serif', 'text-anchor':opt.a || 'middle', fill:opt.c || '#000'});
  if(opt.rot) e.setAttribute('transform','rotate('+opt.rot+' '+x+' '+y+')');
  if(opt.it) e.setAttribute('font-style','italic');
  if(opt.b) e.setAttribute('font-weight','bold');
  e.textContent = s;
  return e;
}
function lineD(xs,ys,sx,sy){ return xs.map((v,i)=>(i?'L':'M')+sx(v).toFixed(1)+','+sy(ys[i]).toFixed(1)).join(''); }
function smoothD(xs,ys,sx,sy){
  const P = xs.map((v,i)=>[sx(v),sy(ys[i])]);
  let d = 'M'+P[0][0].toFixed(1)+','+P[0][1].toFixed(1);
  for(let i=0;i<P.length-1;i++){
    const p0=P[Math.max(0,i-1)], p1=P[i], p2=P[i+1], p3=P[Math.min(P.length-1,i+2)];
    const c1=[p1[0]+(p2[0]-p0[0])/6, p1[1]+(p2[1]-p0[1])/6];
    const c2=[p2[0]-(p3[0]-p1[0])/6, p2[1]-(p3[1]-p1[1])/6];
    d += 'C'+c1[0].toFixed(1)+','+c1[1].toFixed(1)+' '+c2[0].toFixed(1)+','+c2[1].toFixed(1)+' '+p2[0].toFixed(1)+','+p2[1].toFixed(1);
  }
  return d;
}
let clipN = 0;
function clipTo(x0,y0,x1,y1){ clipN++; const cp = mk('clipPath', defs, {id:'cp'+clipN}); mk('rect', cp, {x:x0,y:y0,width:x1-x0,height:y1-y0}); return 'url(#cp'+clipN+')'; }
function frame(parent,x0,y0,x1,y1,w){ return mk('rect', parent, {x:x0,y:y0,width:x1-x0,height:y1-y0,fill:'none',stroke:'#000','stroke-width':w||1}); }
function curve(parent,xs,ys,sx,sy,color,w,dash,smooth){
  const p = mk('path', parent, {d:(smooth?smoothD:lineD)(xs,ys,sx,sy), fill:'none', stroke:color, 'stroke-width':w||1.2});
  if(dash) p.setAttribute('stroke-dasharray', dash);
  return p;
}
function marker(parent,x,y,shape,color,r,fill){
  let e;
  const f = fill===undefined ? color : fill;
  if(shape==='circle') e = mk('circle', parent, {cx:x, cy:y, r:r, fill:f, stroke:color, 'stroke-width':1});
  else if(shape==='square') e = mk('rect', parent, {x:x-r, y:y-r, width:2*r, height:2*r, fill:f, stroke:color});
  else if(shape==='tri') e = mk('path', parent, {d:'M'+x+','+(y-r)+'L'+(x+r)+','+(y+r*0.8)+'L'+(x-r)+','+(y+r*0.8)+'Z', fill:f, stroke:color});
  else if(shape==='tridown') e = mk('path', parent, {d:'M'+x+','+(y+r)+'L'+(x+r)+','+(y-r*0.8)+'L'+(x-r)+','+(y-r*0.8)+'Z', fill:f, stroke:color});
  else if(shape==='diamond') e = mk('path', parent, {d:'M'+x+','+(y-r)+'L'+(x+r)+','+y+'L'+x+','+(y+r)+'L'+(x-r)+','+y+'Z', fill:f, stroke:color});
  else { let d=''; for(let i=0;i<10;i++){ const a=-Math.PI/2+i*Math.PI/5; const rr=i%2?r*0.45:r; d+=(i?'L':'M')+(x+rr*Math.cos(a)).toFixed(1)+','+(y+rr*Math.sin(a)).toFixed(1);} e = mk('path', parent, {d:d+'Z', fill:f, stroke:color,'stroke-width':0.6}); }
  return e;
}
function xTicks(parent, vals, labels, sx, yAxis, size, len){
  vals.forEach((v,i)=>{
    const x = sx(v);
    mk('line', parent, {x1:x, x2:x, y1:yAxis, y2:yAxis-(len||3), stroke:'#000', 'stroke-width':0.8});
    const t = txt(parent, x, yAxis+size+1, labels[i], size);
    
    
  });
}
function yTicks(parent, vals, labels, sy, xAxis, size, right, len){
  vals.forEach((v,i)=>{
    const y = sy(v);
    mk('line', parent, {x1:xAxis, x2:xAxis+(right?-(len||3):(len||3)), y1:y, y2:y, stroke:'#000', 'stroke-width':0.8});
    const t = txt(parent, right? xAxis+3 : xAxis-3, y+size*0.35, labels[i], size, {a: right?'start':'end'});
    
    
  });
}
const C = {k:'#111', r:'#e31a1c', o:'#f2a900', g:'#1a9a1a', b:'#1028e0'};

// ================= FIGURE 1 =================
const fig1 = mk('g', svgRoot);


[['(a)',1031,97],['(b)',1274,97],['(c)',1506,97],['(d)',1031,272],['(e)',1274,272],['(f)',1506,272]].forEach(l=>{
  const t = txt(fig1, l[1], l[2], l[0], 13);
  
  
});
// (a)
{
  const g = mk('g', fig1);
  
  
  const sx = lin(0,300,1057,1261), sy = lin(5,3,99.5,206.6);
  const cg = mk('g', g, {'clip-path':clipTo(1061,99,1261,243)});
  const series = [[f1aChi0,C.k],[f1aChi051,C.r],[f1aChi08,C.o],[f1aChi093,C.g],[f1aChi105,C.b]];
  series.forEach(s=>{
    const p = curve(cg, f1aT, s[0], sx, sy, s[1], 1.4, null, true);
    
    
  });
  frame(g,1061,99,1261,243);
  xTicks(g,[50,100,150,200,250,300],['50','100','150','200','250','300'],sx,243,8.5);
  yTicks(g,[3,4,5],['3','4','5'],sy,1061,8.5);
  f1aLegend.forEach((s,i)=>{
    const y = 109 + i*10.6;
    mk('line', g, {x1:1152,x2:1165,y1:y,y2:y,stroke:series[i][1],'stroke-width':1.6});
    const t = txt(g, 1168, y+3, s, 7.5, {a:'start', it:true});
    
    
  });
  txt(g, 1100, 138, '~94 K', 8.5);
  mk('path', g, {d:'M1108,142 L1119,160', stroke:'#1a5ad8', 'stroke-width':1.2, fill:'none'});
  mk('path', g, {d:'M1119,160 l-5,-2 l3,-3 z', fill:'#1a5ad8'});
  const yl = txt(g, 1044, 171, 'χ (10⁻³ emu mol⁻¹)', 9, {rot:-90});
  
  
  const xl = txt(g, 1161, 264, 'T (K)', 10, {it:true});
  
  
}
// (b)
{
  const g = mk('g', fig1);
  
  
  const boxes = [[1298,100,1387,163],[1407,100,1497,163],[1298,178,1387,240],[1407,178,1497,240]];
  const zfc = [f1bZfc0, f1bZfc051, f1bZfc08, f1bZfc105];
  boxes.forEach((b,i)=>{
    const sx = lin(1.95,5.05,b[0],b[2]), sy = lin(0.08,-1.0,b[1],b[3]);
    const cg = mk('g', g, {'clip-path':clipTo(b[0],b[1],b[2],b[3])});
    const fc = curve(cg, f1bT, f1bFc, sx, sy, '#111', 1.5);
    
    
    const zc = curve(cg, f1bT, zfc[i], sx, sy, C.r, 1.2, null, true);
    
    
    frame(g,b[0],b[1],b[2],b[3]);
    mk('line', g, {x1:b[0],x2:b[2],y1:b[1]+1.5,y2:b[1]+1.5,stroke:'#666','stroke-width':2});
    yTicks(g,[0,-0.5,-1.0],['0','-0.5','-1.0'],sy,b[0],6.5);
    mk('line', g, {x1:b[2]-30,x2:b[2]-20,y1:b[1]+14,y2:b[1]+14,stroke:'#111','stroke-width':1.3});
    mk('line', g, {x1:b[2]-30,x2:b[2]-20,y1:b[1]+24,y2:b[1]+24,stroke:C.r,'stroke-width':1.3});
    txt(g, b[2]-18, b[1]+16, 'FC', 6.5, {a:'start'});
    txt(g, b[2]-18, b[1]+26, 'ZFC', 6.5, {a:'start'});
    const dl = txt(g, b[2]-3, b[3]-4, f1bDoping[i], 6.5, {a:'end', it:true});
    
    
    if(i>=2) xTicks(g,[2.0,2.5,3.0,3.5,4.0,4.5,5.0],['2.0','2.5','3.0','3.5','4.0','4.5','5.0'],sx,b[3],6.5);
  });
  txt(g, 1286, 131, '4πχ', 9, {rot:-90, it:true});
  txt(g, 1286, 209, '4πχ', 9, {rot:-90, it:true});
  txt(g, 1343, 265, 'T (K)', 10, {it:true});
  txt(g, 1452, 265, 'T (K)', 10, {it:true});
}
// (c)
{
  const g = mk('g', fig1);
  
  
  const sx = lin(0,140,1528.7,1734), sy = lin(0,2.5,243.8,105);
  const cg = mk('g', g, {'clip-path':clipTo(1532,100,1734,241)});
  const series = [[f1cCp117,C.b],[f1cCp92,C.g],[f1cCp73,C.o],[f1cCp47,C.r],[f1cCp0,C.k]];
  series.forEach(s=>{
    const p = curve(cg, f1cT, s[0], sx, sy, s[1], 1.2);
    
    
    f1cT.forEach((t,i)=>{
      const m = marker(cg, sx(t), sy(s[0][i]), 'circle', s[1], 1.8);
      
      
    });
  });
  frame(g,1532,100,1734,241);
  mk('line', g, {x1:1532,x2:1734,y1:101.5,y2:101.5,stroke:'#666','stroke-width':2});
  xTicks(g,[20,40,60,80,100,120,140],['20','40','60','80','100','120','140'],sx,241,8.5);
  yTicks(g,[0.5,1.0,1.5,2.0,2.5],['0.5','1.0','1.5','2.0','2.5'],sy,1532,7.5);
  txt(g, 1640, 118, '~94 K', 9);
  mk('path', g, {d:'M1650,112 L1661,104', stroke:'#1a5ad8','stroke-width':1.2,fill:'none'});
  // inset
  const ig = mk('g', g);
  
  
  mk('rect', ig, {x:1585,y:171,width:75,height:59,fill:'#fff',stroke:'#000','stroke-width':0.8});
  const isx = lin(2,5,1587,1658), isy = lin(0,0.12,228,173);
  [[f1cInset117,C.b],[f1cInset47,C.r],[f1cInset0,C.k]].forEach(s=>{
    const p = curve(ig, f1cInsetT, s[0], isx, isy, s[1], 0.8, '2,1.5');
    
    
    f1cInsetT.forEach((t,i)=>{ const m = marker(ig, isx(t), isy(s[0][i]), 'circle', s[1], 1.2);   });
  });
  xTicks(ig,[2.0,2.5,3.0,3.5,4.0,4.5,5.0],['2.0','2.5','3.0','3.5','4.0','4.5','5.0'],isx,230,4.5,2);
  txt(ig, 1622, 243, 'T(K)', 5);
  f1cLegend.forEach((s,i)=>{
    const y = 192 + i*10.8;
    const col = [C.k,C.r,C.o,C.g,C.b][i];
    mk('line', g, {x1:1673,x2:1687,y1:y,y2:y,stroke:col,'stroke-width':1.4});
    marker(g, 1680, y, 'diamond', col, 3);
    const t = txt(g, 1691, y+3, s, 7.5, {a:'start', it:true});
    
    
  });
  txt(g, 1512, 170, 'Cₚ/T (J mol⁻¹ K⁻²)', 9, {rot:-90});
  txt(g, 1633, 264, 'T (K)', 10, {it:true});
}
// (d)
{
  const g = mk('g', fig1);
  
  
  const sx = lin(0,300,1057,1261), sy = lin(0,1,417,275);
  const cg = mk('g', g, {'clip-path':clipTo(1061,275,1261,417)});
  const series = [[f1dR0,C.k],[f1dR47,C.r],[f1dR73,C.o],[f1dR92,C.g],[f1dR117,C.b]];
  series.forEach(s=>{
    const p = curve(cg, f1dT, s[0], sx, sy, s[1], 1.4, null, true);
    
    
  });
  frame(g,1061,275,1261,417);
  xTicks(g,[50,100,150,200,250,300],['50','100','150','200','250','300'],sx,417,8.5);
  yTicks(g,[0,0.2,0.4,0.6,0.8,1.0],['0','0.2','0.4','0.6','0.8','1.0'],sy,1061,7.5);
  f1dLegend.forEach((s,i)=>{
    const y = 354 + i*10.7;
    mk('line', g, {x1:1192,x2:1210,y1:y,y2:y,stroke:series[i][1],'stroke-width':1.6});
    const t = txt(g, 1213, y+3, s, 7.5, {a:'start', it:true});
    
    
  });
  txt(g, 1138, 384, '~94 K', 8.5);
  mk('path', g, {d:'M1125,403 L1125,374', stroke:'#1a5ad8','stroke-width':1.2,fill:'none'});
  mk('path', g, {d:'M1125,372 l-2.5,5 l5,0 z', fill:'#1a5ad8'});
  txt(g, 1044, 346, 'ρ/ρ (300 K)', 9, {rot:-90, it:true});
  txt(g, 1161, 438, 'T (K)', 10, {it:true});
}
// (e)
{
  const g = mk('g', fig1);
  
  
  const sx = lin(2.0,4.5,1310,1497), sy = lin(0,0.4,416,292);
  const cg = mk('g', g, {'clip-path':clipTo(1296,276,1497,416)});
  const series = [[f1eTblack,f1eRblack,C.k],[f1eTred,f1eRred,C.r],[f1eTorange,f1eRorange,C.o],[f1eTgreen,f1eRgreen,C.g],[f1eTblue,f1eRblue,C.b]];
  series.forEach(s=>{
    const p = curve(cg, s[0], s[1], sx, sy, s[2], 1.3);
    
    
  });
  frame(g,1296,276,1497,416);
  xTicks(g,[2.0,2.5,3.0,3.5,4.0,4.5],['2.0','2.5','3.0','3.5','4.0','4.5'],sx,416,8.5);
  yTicks(g,[0,0.2,0.4],['0','0.2','0.4'],sy,1296,7.5);
  f1dLegend.forEach((s,i)=>{
    const y = 342 + i*11;
    mk('line', g, {x1:1300,x2:1316,y1:y,y2:y,stroke:[C.k,C.r,C.o,C.g,C.b][i],'stroke-width':1.6});
    const t = txt(g, 1319, y+3, s, 7.5, {a:'start', it:true});
    
    
  });
  txt(g, 1279, 346, 'ρ/ρ (300 K)', 9, {rot:-90, it:true});
  txt(g, 1396, 440, 'T (K)', 10, {it:true});
}
// (f)
{
  const g = mk('g', fig1);
  
  
  const sx = lin(0,0.12,1548,1734), syL = lin(90,94,416,304), syR = lin(3.0,3.8,416,276);
  const p = curve(g, f1fX, f1fTc, sx, syR, '#111', 1);
  
  
  f1fX.forEach((x,i)=>{
    const m = marker(g, sx(x), syR(f1fTc[i]), 'circle', '#111', 3.3);
    
    
  });
  f1fCdwX.forEach((x,i)=>{
    const m = txt(g, sx(x), syL(f1fCdwT[i])+4, '*', 11, {c:C.r, b:true});
    
    
  });
  frame(g,1532,276,1734,416);
  mk('line', g, {x1:1532,x2:1734,y1:277.5,y2:277.5,stroke:'#666','stroke-width':2});
  xTicks(g,[0,0.04,0.08,0.12],['0','0.04','0.08','0.12'],sx,416,7.5);
  yTicks(g,[90,92,94],['90','92','94'],syL,1532,7.5);
  yTicks(g,[3.2,3.4,3.6,3.8],['3.2','3.4','3.6','3.8'],syR,1734,7.5,true);
  txt(g, 1625, 381, '*', 11, {c:C.r, b:true});
  txt(g, 1634, 379, 'CDW', 8, {a:'start'});
  mk('line', g, {x1:1617,x2:1633,y1:398,y2:398,stroke:'#111'});
  marker(g, 1625, 398, 'circle', '#111', 3);
  txt(g, 1638, 401, 'SC', 8, {a:'start'});
  txt(g, 1514, 346, 'T_CDW (K)', 9, {rot:-90, it:true});
  txt(g, 1756, 346, 'T_C (K)', 9, {rot:-90, it:true});
  txt(g, 1640, 440, 'x in Cs(V₁₋ₓTiₓ)₃Sb₅', 9.5);
}

// ================= FIGURE 2 =================
const fig2 = mk('g', svgRoot);


const f2X0 = [2013,2144,2274,2404,2535];
txt(fig2, 1979, 99, '(a)', 13);
txt(fig2, 1979, 298, '(b)', 13);
f2X0.forEach((x0,pi)=>{
  const w = 123;
  const sk = lin(-1,0,x0+37,x0+99);
  // (a) ARPES image
  const ga = mk('g', fig2, {'clip-path':clipTo(x0,105,x0+w,250)});
  
  
  const sE = lin(0,-0.8,120,241);
  const ef = sE(f2Shift[pi]*0);
  mk('rect', ga, {x:x0,y:105,width:w,height:145,fill:'url(#g2bg)'});
  mk('rect', ga, {x:x0,y:105,width:w,height:ef-105,fill:'#f2e8a8'});
  mk('ellipse', ga, {cx:sk(-1.15),cy:sE(-0.4),rx:26,ry:55,fill:'#6a2a6e',opacity:0.55,filter:'url(#bl6)'});
  mk('ellipse', ga, {cx:sk(-1.15),cy:sE(-0.64),rx:14,ry:24,fill:'#1e0824',opacity:0.9,filter:'url(#bl6)'});
  const xl = 'M'+sk(-1.5)+','+ef+' L'+sk(-1.1)+','+sE(-0.38)+' L'+sk(-0.75)+','+ef+' M'+sk(-1.5)+','+sE(-0.38)+' L'+sk(-1.1)+','+ef+' L'+sk(-0.75)+','+sE(-0.38);
  mk('path', ga, {d:xl, stroke:'#4a1050','stroke-width':5,fill:'none',opacity:0.75,filter:'url(#bl3)'});
  mk('path', ga, {d:'M'+sk(-0.3)+','+ef+' L'+sk(-0.28)+',250 M'+sk(0.3)+','+ef+' L'+sk(0.28)+',250', stroke:'#b0642a','stroke-width':6,fill:'none',opacity:0.55,filter:'url(#bl3)'});
  [-1.12,-0.75,0].forEach((k,j)=>{ mk('line', ga, {x1:sk(k),x2:sk(k),y1:105,y2:250,stroke:'#111','stroke-width':0.9,'stroke-dasharray':j===0?'2,2':'4,2'}); });
  mk('line', ga, {x1:x0,x2:x0+w,y1:ef,y2:ef,stroke:'#111','stroke-width':1,'stroke-dasharray':'1.5,1.5'});
  const sE2 = lin(0,-0.8,120,241);
  const ov = curve(ga, f2DK, f2DE.map(e=>e+f2Shift[pi]), sk, sE2, '#2040d0', 0.9, '2,2');
  
  
  const ov2 = curve(ga, f2AK, f2AE.map(e=>e+f2Shift[pi]), sk, sE2, '#e02020', 0.9, '2,2');
  
  
  const dl = txt(fig2, x0+w*0.72, 242, f2Doping[pi], 12, {c:'#fff'});
  
  
  frame(fig2, x0, 105, x0+w, 250, 1.2);
  txt(fig2, sk(-1), 266, '-1.0', 10);
  txt(fig2, sk(0), 266, '0', 10);
  txt(fig2, x0+55, 282, 'k// (Å⁻¹)', 10, {it:true});
  // (b) dispersions
  const gb = mk('g', fig2);
  
  
  const sEb = lin(0,-0.6,303,412);
  [-1.12,-0.75].forEach(k=>{ mk('line', gb, {x1:sk(k),x2:sk(k),y1:293,y2:438,stroke:'#111','stroke-width':0.8,'stroke-dasharray':'2,2'}); });
  mk('line', gb, {x1:sk(0),x2:sk(0),y1:293,y2:438,stroke:'#111','stroke-width':0.8,'stroke-dasharray':'4,2'});
  mk('line', gb, {x1:x0,x2:x0+w,y1:sEb(0),y2:sEb(0),stroke:'#111','stroke-width':1,'stroke-dasharray':'2,1.5'});
  [[f2AK,f2AE,'#e02020'],[f2BK,f2BE,'#f0a000'],[f2CK,f2CE,'#20c020'],[f2DK,f2DE,'#1030e0']].forEach(b=>{
    const es = b[1].map(e=>e+f2Shift[pi]);
    const c = curve(gb, b[0], es, sk, sEb, b[2], 1.2);
    
    
    b[0].forEach((k,i)=>{
      const m = marker(gb, sk(k), sEb(es[i]), 'circle', b[2], 2.3, 'none');
      
      
    });
  });
  frame(fig2, x0, 293, x0+w, 438, 1.2);
  mk('line', fig2, {x1:x0,x2:x0+w,y1:294.5,y2:294.5,stroke:'#666','stroke-width':2});
  txt(fig2, sk(-1), 452, '-1.0', 10);
  txt(fig2, sk(0), 452, '0', 10);
  txt(fig2, x0+55, 468, 'k// (Å⁻¹)', 10, {it:true});
});
yTicks(fig2,[0,-0.2,-0.4,-0.6,-0.8],['0','-0.2','-0.4','-0.6','-0.8'],lin(0,-0.8,120,241),2013,10);
yTicks(fig2,[0,-0.2,-0.4,-0.6],['0','-0.2','-0.4','-0.6'],lin(0,-0.6,303,412),2013,10);
txt(fig2, 1979, 180, 'E − E_F (eV)', 11, {rot:-90, it:true});
txt(fig2, 1979, 368, 'E − E_F (eV)', 11, {rot:-90, it:true});
[['A','#e02020',2041],['B','#f0a000',2052],['C','#20c020',2075],['D','#1030e0',2097]].forEach(a=>{
  const t = txt(fig2, a[2], 99, a[0], 12, {c:a[1]});
  
  
  mk('path', fig2, {d:'M'+a[2]+',103 L'+a[2]+',116', stroke:a[1], 'stroke-width':1.3});
  mk('path', fig2, {d:'M'+(a[2]-2.5)+',113 L'+a[2]+',118 L'+(a[2]+2.5)+',113Z', fill:a[1]});
});
txt(fig2, 2171, 99, 'L', 12); txt(fig2, 2194, 99, 'H', 12); txt(fig2, 2244, 99, 'A', 12);
txt(fig2, 2030, 133, 'C1', 11, {c:'#fff'});
txt(fig2, 2077, 190, '←C2', 10, {c:'#fff'});
txt(fig2, 2125, 236, 'C3', 11, {c:'#fff'});

// ================= FIGURE 3 =================
const fig3 = mk('g', svgRoot);


[['(a)',2885,97],['(b)',3103,97],['(c)',3293,97],['(g)',3477,97],['(d)',2885,258],['(e)',3141,262],['(f)',3293,262],['(h)',3477,262]].forEach(l=>{
  const t = txt(fig3, l[1], l[2], l[0], 12);
  
  
});
const f3Boxes = [[2921,3090],[3110,3279],[3298,3464]];
f3Boxes.forEach((b,pi)=>{
  const x0=b[0], x1=b[1], w=x1-x0, y0=111, y1=237, ef=125;
  const sk = lin(1.0,1.5,x0+62.7,x0+142);
  const sE = lin(0,-0.5,125,198);
  const g = mk('g', fig3, {'clip-path':clipTo(x0,y0,x1,y1)});
  
  
  mk('rect', g, {x:x0,y:y0,width:w,height:y1-y0,fill:'#e4d57a'});
  mk('rect', g, {x:x0,y:y0,width:w,height:ef-y0,fill:'#f2ecb8'});
  const U = (u,v)=>(x0+u*w).toFixed(1)+','+(ef+v*(y1-ef)).toFixed(1);
  const shift = pi*0.04;
  const paths = ['M'+U(0,0.58-shift)+' L'+U(0.5,0.0)+' L'+U(1,0.58-shift),
                 'M'+U(0.08,0)+' L'+U(0.5,0.62-shift)+' L'+U(0.92,0),
                 'M'+U(0,0.28)+' Q'+U(0.5,1.25-shift)+' '+U(1,0.28)];
  paths.forEach(d=>{
    mk('path', g, {d:d, stroke:'#c27a3a','stroke-width':10,fill:'none',opacity:0.7,filter:'url(#bl3)'});
    mk('path', g, {d:d, stroke:'#6a2a7a','stroke-width':3.5,fill:'none',opacity:0.85,filter:'url(#bl3)'});
  });
  const by = pi===0 ? 0.9 : 0.8-0.02*pi;
  mk('ellipse', g, {cx:x0+0.5*w, cy:ef+by*(y1-ef), rx:w*(pi===0?0.2:0.26), ry:(y1-ef)*0.12, fill:'#7a2a78', opacity:0.8, filter:'url(#bl6)'});
  mk('ellipse', g, {cx:x0+0.5*w, cy:ef+by*(y1-ef), rx:w*(pi===0?0.13:0.2), ry:(y1-ef)*0.07, fill:'#120410', filter:'url(#bl3)'});
  if(pi===0) mk('ellipse', g, {cx:x0+0.5*w, cy:ef+10, rx:9, ry:12, fill:'#140414', filter:'url(#bl3)'});
  if(pi===0){
    mk('path', g, {d:'M'+U(0,0)+' L'+U(0.5,0.9)+' L'+U(1,0)+' M'+U(0,0.55)+' L'+U(0.3,-0.1)+' M'+U(1,0.55)+' L'+U(0.7,-0.1)+' M'+U(0.25,-0.1)+' L'+U(0.45,0.0)+' M'+U(0.75,-0.1)+' L'+U(0.55,0.0), stroke:'#40c040','stroke-width':0.8,fill:'none','stroke-dasharray':'2,2'});
  }
  [x0+22.5, x0+149].forEach(x=>{ mk('line', g, {x1:x,x2:x,y1:y0,y2:y1,stroke:'#333','stroke-width':0.7,'stroke-dasharray':'1.5,1.5'}); });
  mk('line', g, {x1:x0+85.8,x2:x0+85.8,y1:y0,y2:y1,stroke:'#333','stroke-width':0.7,'stroke-dasharray':'1.5,1.5'});
  mk('line', g, {x1:x0,x2:x1,y1:ef,y2:ef,stroke:'#333','stroke-width':0.8,'stroke-dasharray':'1.5,1.5'});
  const es = f3RedE.map(e=>e+f3Shift[pi]);
  const rc = curve(g, f3RedK, es, sk, sE, '#e02020', 0.8, '2,2');
  
  
  f3RedK.forEach((k,i)=>{
    const m = marker(g, sk(k), sE(es[i]), 'circle', '#e02020', 1.8, 'none');
    
    
  });
  const dl = txt(fig3, x1-20, 232, f3Doping[pi], 11, {c:'#fff', b:true});
  
  
  frame(fig3, x0, y0, x1, y1, 0.8);
  txt(fig3, x0+22.5, 105, 'H', 11, {it:true});
  txt(fig3, x0+85.8, 105, 'L', 11, {it:true});
  txt(fig3, x0+149, 105, 'H', 11, {it:true});
  txt(fig3, sk(1.0), 245, '1.0', 7);
  txt(fig3, sk(1.5), 245, '1.5', 7);
  txt(fig3, x0+72, 259, 'kₓ (Å⁻¹)', 11, {it:true});
  yTicks(fig3,[0,-0.5],['0','-0.5'],sE,x0,7);
});
txt(fig3, 2898, 176, 'E - E_F (eV)', 11, {rot:-90, it:true});
// (g),(h) phonons
function phonon(name, y0, y1, y300, yM100, bands, color, label){
  const g = mk('g', fig3);
  
  
  const sq = lin(0,3.75,3501.8,3606), sf = lin(300,-100,y300,yM100);
  const cg = mk('g', g, {'clip-path':clipTo(3500,y0,3606,y1)});
  f3Q.forEach(q=>{ mk('line', cg, {x1:sq(q),x2:sq(q),y1:y0,y2:y1,stroke:'#888','stroke-width':0.6,'stroke-dasharray':'1.5,1.5'}); });
  mk('line', cg, {x1:3500,x2:3606,y1:sf(0),y2:sf(0),stroke:'#888','stroke-width':0.6,'stroke-dasharray':'1.5,1.5'});
  bands.forEach(b=>{
    const p = curve(cg, f3Q, b, sq, sf, color, 0.8, null, true);
    
    
  });
  frame(g, 3500, y0, 3606, y1, 0.8);
  yTicks(g,[300,200,100,0,-100],['300','200','100','0','-100'],sf,3500,6);
  xTicks(g,[0,0.5,1.0,1.5,2.0,2.5,3.0,3.5],['0','0.5','1.0','1.5','2.0','2.5','3.0','3.5'],sq,y1,6);
  f3Q.forEach((q,i)=>{ const t = txt(g, sq(q), y0-6, f3SymLabels[i], 9, {it:true});   });
  mk('line', g, {x1:3506,x2:3516,y1:y1-8,y2:y1-8,stroke:color,'stroke-width':1});
  txt(g, 3519, y1-5.5, label, 6, {a:'start', it:true});
  txt(g, 3479, (y0+y1)/2, 'Frequency (cm⁻¹)', 8, {rot:-90});
  txt(g, 3553, y1+18, 'k// (Å⁻¹)', 9, {it:true});
}
phonon('panel-3g-phonon-x0', 115, 239, 118.6, 220.4, [f3gB1,f3gB2,f3gB3,f3gB4,f3gB5,f3gB6,f3gB7,f3gB8,f3gB9], '#222', 'x = 0');
phonon('panel-3h-phonon-x007', 282, 407, 288.5, 390, [f3hB1,f3hB2,f3hB3,f3hB4,f3hB5,f3hB6,f3hB7,f3hB8,f3hB9], '#2ec07a', 'x = 0.07');
// (d)
{
  const g = mk('g', fig3);
  
  
  const sk = lin(0,3.5,2921,3115), sE = lin(0.3,-0.3,300,394);
  const cg = mk('g', g, {'clip-path':clipTo(2921,285,3133,409)});
  [0.65,1.01,1.74,2.1,2.73,3.08].forEach(k=>{ mk('line', cg, {x1:sk(k),x2:sk(k),y1:285,y2:409,stroke:'#666','stroke-width':0.6,'stroke-dasharray':'2,2'}); });
  const cols = ['#111','#8fe08f','#1e8c1e'];
  f3dShift.forEach((sh,di)=>{
    [f3dBandA,f3dBandB,f3dBandC,f3dBandD,f3dBandE].forEach(b=>{
      const p = curve(cg, f3dK, b.map(e=>e+sh), sk, sE, cols[di], 1.1, null, true);
      
      
    });
  });
  mk('line', cg, {x1:2921,x2:3133,y1:sE(0),y2:sE(0),stroke:'#e02020','stroke-width':0.9,'stroke-dasharray':'1.5,1.5'});
  frame(g,2921,285,3133,409,0.8);
  yTicks(g,[0.3,0,-0.3],['0.3','0','-0.3'],sE,2921,7);
  xTicks(g,[0,0.5,1.0,1.5,2.0,2.5,3.0,3.5],['0','0.5','1.0','1.5','2.0','2.5','3.0','3.5'],sk,409,7);
  [['Γ',0],['M',0.65],['K',1.01],['Γ',1.74],['A',2.1],['L',2.73],['H',3.08],['A',3.8]].forEach(s=>{ txt(g, sk(s[1]), 279, s[0], 10, {it:true}); });
  f3dLegend.forEach((s,i)=>{
    const y = 292 + i*7.5;
    mk('line', g, {x1:3009,x2:3020,y1:y,y2:y,stroke:cols[i],'stroke-width':1.2});
    const t = txt(g, 3022, y+2.5, s, 5.5, {a:'start', it:true});
    
    
  });
  txt(g, 2973, 342, 'VHS1', 6.5, {b:true}); txt(g, 3078, 302, 'VHS1', 6.5, {b:true});
  txt(g, 2943, 375, 'VHS2', 6.5, {b:true}); txt(g, 3059, 375, 'VHS2', 6.5, {b:true});
  mk('path', g, {d:'M2965,345 L2957,352 M2950,370 L2955,355 M3070,305 L3074,313 M3066,372 L3072,358', stroke:'#e02020','stroke-width':0.9,fill:'none'});
  txt(g, 2898, 345, 'E - E_F (eV)', 11, {rot:-90, it:true});
  txt(g, 3015, 428, 'k// (Å⁻¹)', 11, {it:true});
}
// (e)
{
  const g = mk('g', fig3);
  
  
  const sk = lin(4.0,4.2,3170,3229), sE = lin(0.2,0,307.6,358);
  const cg = mk('g', g, {'clip-path':clipTo(3155,285,3253,409)});
  const cols = ['#111','#8fe08f','#1e8c1e'];
  f3eShift.forEach((sh,di)=>{
    [f3eUp,f3eMid,f3eLow].forEach(b=>{
      const p = curve(cg, f3eK, b.map(e=>e+sh), sk, sE, cols[di], 1.2, null, true);
      
      
    });
  });
  mk('line', cg, {x1:3155,x2:3253,y1:sE(0),y2:sE(0),stroke:'#e02020','stroke-width':0.9,'stroke-dasharray':'1.5,1.5'});
  frame(g,3155,285,3253,409,0.8);
  yTicks(g,[0.2,0,-0.2],['0.2','0','-0.2'],sE,3155,7);
  xTicks(g,[4.0,4.2],['4.0','4.2'],sk,409,7);
  txt(g, 3160, 280, 'M', 10, {it:true}); txt(g, 3250, 280, 'L', 10, {it:true});
  ['x = 0','x = 0.05','x = 0.1'].forEach((s,i)=>{
    const y = 292 + i*7.5;
    mk('line', g, {x1:3169,x2:3180,y1:y,y2:y,stroke:cols[i],'stroke-width':1.2});
    txt(g, 3182, y+2.5, s, 5.5, {a:'start', it:true});
  });
  txt(g, 3169, 352, 'VHS1', 5.5, {b:true}); txt(g, 3237, 335, 'VHS1', 5.5, {b:true});
  txt(g, 3171, 400, 'VHS2', 5.5, {b:true}); txt(g, 3233, 400, 'VHS2', 5.5, {b:true});
  txt(g, 3204, 430, 'k// (Å⁻¹)', 11, {it:true});
}
// (f)
{
  const g = mk('g', fig3);
  
  
  const sx = lin(0,0.1,3298,3453);
  const sy = v => v<=0.1 ? 371 - v*433 : 335 - (v-0.24)*762;
  const cg = mk('g', g, {'clip-path':clipTo(3298,282,3469,409)});
  const xc = sx(0.045);
  mk('rect', cg, {x:3298,y:282,width:xc-3298,height:127,fill:'#f8e8a8'});
  const topM = f3fX.map((x,i)=>sx(x).toFixed(1)+','+sy(f3fVhs1M[i]).toFixed(1));
  mk('polygon', cg, {points:'3298,282 3470,282 3470,'+sy(0.03).toFixed(1)+' '+topM.slice().reverse().join(' '), fill:'#b2f0f6'});
  mk('rect', cg, {x:3298,y:282,width:xc-3298,height:127,fill:'#f8e8a8',opacity:0.0});
  const greenPts = f3fX.map((x,i)=>sx(x).toFixed(1)+','+sy(f3fVhs1L[i]).toFixed(1)).concat(f3fX.map((x,i)=>sx(x).toFixed(1)+','+sy(f3fVhs1M[i]).toFixed(1)).reverse());
  mk('polygon', cg, {points:greenPts.join(' '), fill:'#9ad29a', opacity:0.6, 'clip-path':clipTo(3298,282,xc,409)});
  mk('rect', cg, {x:3298,y:sy(0.24)+10,width:xc-3298,height:0,fill:'none'});
  mk('line', cg, {x1:xc,x2:xc,y1:282,y2:409,stroke:'#e02020','stroke-width':1,'stroke-dasharray':'4,2'});
  mk('line', cg, {x1:3298,x2:3469,y1:sy(0),y2:sy(0),stroke:'#e02020','stroke-width':1,'stroke-dasharray':'3,2'});
  [[f3fX,f3fVhs1M,'tri','#1e8c1e'],[f3fX,f3fVhs1L,'tridown','#1e8c1e'],[f3fX,f3fVhs2Cal,'circle','#1e8c1e'],[f3fExpX,f3fVhs2Exp,'star','#1030e0']].forEach((s,si)=>{
    const p = curve(cg, s[0], s[1], sx, sy, s[3], 1, si===3?'3,2':null);
    
    
    s[0].forEach((x,i)=>{
      const m = marker(cg, sx(x), sy(s[1][i]), s[2], s[3], si===3?5:3, si===3?s[3]:'#fff');
      
      
    });
  });
  frame(g,3298,282,3469,409,0.8);
  yTicks(g,f3fTickV,f3fTickL,sy,3298,6.5);
  xTicks(g,f3fXTicks,['0','0.02','0.04','0.06','0.08','0.10'],sx,409,6.5);
  const cdw = txt(g, 3329, 357, 'CDW', 14, {c:'#e02020', b:true});
  
  
  [['tri','VHS1 (Cal. M)',321],['tridown','VHS1 (Cal. L)',335],['circle','VHS2 (Cal.)',348]].forEach(l=>{
    mk('line', g, {x1:3394,x2:3412,y1:l[2],y2:l[2],stroke:'#1e8c1e','stroke-width':0.8,'stroke-dasharray':'2,1'});
    marker(g, 3403, l[2], l[0], '#1e8c1e', 3, '#fff');
    const t = txt(g, 3415, l[2]+2.5, l[1], 7, {a:'start'});
    
    
  });
  mk('line', g, {x1:3394,x2:3412,y1:397,y2:397,stroke:'#1030e0','stroke-width':0.8,'stroke-dasharray':'2,1'});
  marker(g, 3403, 397, 'star', '#1030e0', 4.5);
  txt(g, 3415, 399.5, 'VHS2 (Exp.)', 7, {a:'start'});
  txt(g, 3282, 345, 'E - E_F (eV)', 10, {rot:-90, it:true});
  txt(g, 3384, 426, 'x in Cs(V₁₋ₓTiₓ)₃Sb₅', 9);
}

// ================= FIGURE 4 =================
{
  const g = mk('g', svgRoot);
  
  
  const sx = lin(0,0.1,3329.6,3523.6);
  const syL = v => v>=75 ? 835.5 - (v-80)*4.43 : (v>=2.5 ? 912.8 - (v-3.5)*108.6 : 994.7 - v*15.7);
  const syR = lin(0.50,0.40,795.7,945);
  const fillPts = ['3330,995'].concat(f4X.map((x,i)=>sx(x).toFixed(1)+','+syL(f4Tc[i]).toFixed(1))).concat([sx(f4X[f4X.length-1]).toFixed(1)+',995']);
  const sc = mk('polygon', g, {points:fillPts.join(' '), fill:'#b9caf3'});
  
  
  const sct = txt(g, 3447, 967, 'SC', 17, {c:'#1a3ad8', b:true});
  
  
  const mline = curve(g, f4X, f4Mass, sx, syR, '#111', 1.3);
  
  
  f4X.forEach((x,i)=>{
    const q = marker(g, sx(x), syL(f4Tc[i]), 'square', '#1a50e0', 4);
    
    
  });
  f4X.forEach((x,i)=>{
    const m = marker(g, sx(x), syR(f4Mass[i]), 'tri', '#111', 4.5);
    
    
  });
  const cl = curve(g, f4X, f4Tcdw, sx, syL, '#e02020', 1, '1.5,1.5');
  
  
  f4X.forEach((x,i)=>{
    const m = marker(g, sx(x), syL(f4Tcdw[i]), 'diamond', '#e02020', 3, '#fff');
    
    
  });
  frame(g,3330,769,3557,995,0.9);
  yTicks(g,f4LeftTicks,f4LeftLabels,syL,3330,8);
  yTicks(g,f4RightTicks,['0.50','0.45','0.40'],syR,3557,8,true);
  xTicks(g,f4XTicks,['0','0.02','0.04','0.06','0.08','0.10'],sx,995,8);
  mk('path', g, {d:'M3326,911 l8,-4 M3326,915 l8,-4 M3326,976 l8,-4 M3326,980 l8,-4', stroke:'#000','stroke-width':0.8});
  // legend
  marker(g, 3497, 797, 'square', '#1a50e0', 4);
  txt(g, 3517, 801, 'T_c', 10, {a:'start', it:true});
  mk('line', g, {x1:3485,x2:3509,y1:815,y2:815,stroke:'#111','stroke-width':1.2});
  marker(g, 3497, 815, 'tri', '#111', 4);
  txt(g, 3513, 818, 'm*/m₀', 9, {a:'start', it:true});
  mk('line', g, {x1:3485,x2:3509,y1:833,y2:833,stroke:'#e02020','stroke-width':1,'stroke-dasharray':'1.5,1.5'});
  marker(g, 3497, 833, 'diamond', '#e02020', 3, '#fff');
  txt(g, 3515, 836, 'T_CDW', 9, {a:'start', it:true});
  // crystal inset
  const cr = mk('g', g);
  
  
  mk('path', cr, {d:'M3415,782 L3460,782 L3468,790 L3468,845 L3460,838 L3415,838 Z M3415,782 L3423,790 L3468,790 M3423,790 L3423,845 L3468,845', fill:'none', stroke:'#999','stroke-width':0.6});
  [[3415,782],[3460,782],[3423,790],[3468,790],[3415,838],[3460,838],[3423,845],[3468,845],[3441,786],[3445,842]].forEach(p=>{ mk('circle', cr, {cx:p[0],cy:p[1],r:4,fill:'#33c24e',stroke:'#1d8a30','stroke-width':0.5}); });
  mk('path', cr, {d:'M3420,813 L3432,806 L3444,813 L3456,806 L3466,813 L3456,820 L3444,813 L3432,820 Z', fill:'none', stroke:'#3050d0','stroke-width':0.8});
  [[3420,813],[3432,806],[3444,813],[3456,806],[3466,813],[3456,820],[3432,820]].forEach(p=>{ mk('circle', cr, {cx:p[0],cy:p[1],r:1.8,fill:'#4060e0'}); });
  [[3438,800],[3450,800],[3438,826],[3450,826],[3426,813],[3461,813]].forEach((p,i)=>{ mk('circle', cr, {cx:p[0],cy:p[1],r:2.2,fill:'none',stroke:i<4?'#a05030':'#d03030','stroke-width':1}); });
  [['Cs','#33c24e',787],['V/Ti','#4060e0',796],['Sb1','#a05030',805],['Sb2','#d03030',814]].forEach(l=>{
    mk('circle', cr, {cx:3376,cy:l[2],r:l[0]==='Cs'?3.5:1.8,fill:l[0]==='Cs'||l[0]==='V/Ti'?l[1]:'none',stroke:l[1]});
    txt(cr, 3383, l[2]+2, l[0], 5, {a:'start'});
  });
  mk('path', cr, {d:'M3380,840 L3380,828 M3380,840 L3392,840', stroke:'#2050e0','stroke-width':1});
  txt(g, 3303, 900, 'T (K)', 10, {rot:-90, it:true});
  txt(g, 3590, 880, 'm* / m₀', 10, {rot:90, it:true});
  txt(g, 3445, 1016, 'x in Cs(V₁₋ₓTiₓ)₃Sb₅', 9.5);
}
</script>
</body></html>
